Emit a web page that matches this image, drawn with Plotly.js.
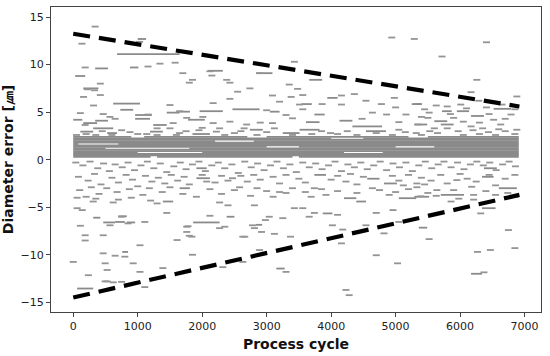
<!DOCTYPE html>
<html>
<head>
<meta charset="utf-8">
<script src="https://cdn.plot.ly/plotly-3.0.1.min.js"></script>
<style>html,body{margin:0;padding:0;background:#fff;}#chart{width:550px;height:356px;}</style>
</head>
<body>
<div id="chart"></div>
<script>
// Dense central band (horizontal traces): level y, start cycle, end cycle
const bandY  = [0.3,0.3,0.3, 0.45, 0.6, 0.75,0.75,0.75, 0.9, 1.05, 1.2,1.2, 1.35,1.35,1.35, 1.5, 1.65,1.65, 1.8, 1.95,1.95, 2.1, 2.25,2.25, 2.4,2.4,2.4,2.4];
const bandX0 = [0,1300,3500, 0, 0, 0,2000,4800, 0, 0, 0,1800, 0,3500,5600, 0, 0,700, 0, 0,2800, 0, 0,4500, 0,1100,3000,5500];
const bandX1 = [1200,3400,6910, 6910, 6910, 1000,4200,6910, 6910, 6910, 500,6910, 3000,5000,6910, 6910, 80,6910, 6910, 2200,6910, 6910, 4000,6910, 900,2700,5200,6910];

// Longer scattered traces: start cycle, end cycle, error
const segX0 = [680,1000,340,880,30,155,620,730,960,1450,0,155,340,960,1240,310,110,525,1190,2090,2840,1650,1960,2470,3050,1780,1850,2740,3250,3660,3540,3940,5250,3740,3610,4130,4330,3510,4540,5290,5720,6520,5950,5600,6170,5290,5700,
  310,700,650,465,830,1390,1860,60,1910,1910,1650,2380,2830,3150,3740,4560,4820,4200,4390,5050,3870,6370,6340,6600,5700,5290,6340,5360,6170,760];
const segX1 = [1650,1130,540,1010,185,390,1035,930,1220,1650,140,370,540,1190,1450,620,310,680,1390,2320,3090,1810,2320,2890,3200,2040,2120,2940,3510,3860,3700,4100,5410,3900,3820,4330,4790,3820,4850,5390,5870,6790,6140,5800,6370,5490,5900,
  420,830,800,650,960,1550,2270,310,2070,2120,1810,2500,2930,3280,3920,4750,5020,4390,4540,5320,4020,6570,6520,6880,6060,5520,6550,5490,6340,850];
const segY  = [11.1,12.7,9.6,9.7,8.8,7.5,5.9,5.25,4.7,4.95,4.2,3.85,4.1,4.3,3.65,3.3,2.95,2.8,2.95,9.35,9.1,5.05,5.1,5.3,5.05,4.2,2.7,3.15,2.8,8.4,5.85,6.5,5.85,4.75,3.95,4.1,3.5,3.15,3.0,5.85,5.1,5.35,5.1,4.05,4.6,3.7,3.7,
  -6.1,-5.95,-6.55,-6.6,-6.6,-4.4,-6.6,-13.55,-0.9,-1.95,-3.0,-6.0,-6.85,-11.45,-1.6,-2.0,-2.5,-4.05,-4.4,-4.05,-5.65,-0.9,-1.8,-3.0,-3.7,-3.9,-5.1,-7.15,-12.0,-9.7];

// Short dashes: cycle, error
const dashX = [340,135,1060,1030,185,1160,1345,1580,420,315,110,465,1500,650,880,1500,1650,1700,1850,1800,2150,2380,2430,3430,3350,3480,2550,2740,2430,2170,3090,3200,3380,3510,3300,3400,2170,2430,2690,3090,2220,2500,3120,2000,
  4940,5290,3560,4160,4160,3860,4360,4540,4780,4980,5000,3560,4640,4860,5160,4480,5050,5350,3990,4250,5050,5320,6410,5720,6260,6880,6290,6170,5630,6010,6410,5520,5500,5900,6520,6790,6170,6630,6880,5530,5970,6440,2890,2120,1300,1550,1760,2010,1650,3000,1140,2270,2650,2900,220,330,160,420,570,1160,185,
  50,200,350,450,600,750,1000,1300,1600,1750,1950,2350,2600,2850,3000,3400,3700,3850,4100,4400,4700,4950,5150,5400,5650,5800,6050,6200,6300,6550,6700,6850,
  5400,5600,5800,6050,6300,6450,6700,6850,6650,6100,5850,5450,6600,6350,
  310,620,60,140,850,1110,110,570,185,185,465,1035,800,465,0,495,930,1035,235,495,620,1110,990,750,1300,1450,2120,2270,2270,1780,1800,1610,2660,2810,2980,2630,2890,650,525,525,750,1390,2320,2070,2470,2580,3000,3200,3400,1910,2400,2810,3040,3250,3430,2350,2780,1760,1760,1840,2920,3120,3370,2630,1850,3300,
  4230,5120,5330,4640,3740,3690,3920,4900,5390,3560,3740,4100,4700,4960,5050,3660,4020,4180,4540,4820,4160,4700,5030,4230,4280,5750,5950,6110,5330,5450,6180,6550,5640,5630,5980,6210,6550,6740,5860,6210,6320,5520,6750,6470,6270,6850,6370,
  40,150,260,380,470,560,650,760,850,950,1050,1150,1250,1350,1450,1560,1660,1750,1850,1950,2050,2150,2250,2350,2460,2560,2660,2760,2860,2960,3060,3160,3260,3360,3460,3560,3660,3760,3860,3960,4060,4160,4260,4360,4460,4560,4660,4760,4860,4960,5060,5160,5260,5360,5460,5560,5660,5860,5960,6060,6160,6260,6360,6460,6560,6660,6760,6860,
  80,230,330,430,600,700,820,920,1000,1120,1220,1320,1420,1520,1620,1720,1800,2000,2200,2300,2400,2600,2700,2800,2900,3100,3200,3300,3500,3600,4000,4100,4300,4400,4500,4950,5050,5200,5400,5550,5700,5800,6000,6250,6450,6700,6850,
  100,280,400,520,680,870,1080,1180,1380,1500,1700,2120,2300,2500,2750,2850,3100,3300,3600,3850,4100,4400,4750,5000,5200,5500,5900,6400,6850,60,200,350,900,1200,700];
const dashY = [14.0,12.2,12.7,12.4,9.7,9.8,10.1,10.2,8.0,5.7,4.9,4.8,5.75,4.3,2.9,3.3,2.8,9.1,8.4,8.1,8.85,8.4,8.1,10.3,7.9,7.45,7.15,7.5,6.4,5.95,6.75,6.1,6.6,5.8,4.7,4.35,3.85,4.0,3.7,3.85,2.95,2.8,3.3,3.35,
  12.85,12.7,6.8,6.75,5.8,5.85,6.9,6.2,5.85,6.5,5.5,5.3,4.95,4.75,4.75,4.3,3.95,3.7,2.8,3.0,3.15,2.8,12.35,10.85,8.4,6.65,6.2,7.1,5.7,5.8,5.5,4.95,4.4,4.4,4.2,4.75,3.5,3.7,3.15,3.0,3.0,2.9,9.1,9.3,3.3,3.85,4.4,4.5,5.1,5.2,2.7,3.3,3.3,3.9,7.4,7.3,6.6,6.8,4.5,4.75,3.65,
  2.6,2.7,2.6,3.0,2.6,3.1,2.7,2.6,2.6,3.0,3.1,2.6,3.0,2.6,2.9,2.6,2.7,3.0,2.7,2.6,2.8,2.6,2.9,2.6,2.8,3.3,2.6,3.1,2.7,2.6,3.0,2.7,
  4.5,3.3,5.6,4.0,3.9,4.8,4.3,5.3,5.8,5.4,4.8,5.3,3.2,3.3,
  -4.4,-4.5,-5.1,-5.3,-6.7,-6.55,-6.95,-6.9,-7.95,-8.5,-7.95,-9.0,-10.2,-9.85,-10.75,-10.9,-10.9,-11.8,-12.15,-12.8,-12.9,-13.4,-12.9,-6.0,-4.6,-5.6,-5.9,-4.5,-7.2,-7.0,-8.0,-8.45,-8.1,-7.2,-6.35,-10.75,-9.5,-10.1,-11.6,-12.8,-12.85,-11.4,-11.3,-2.3,-1.95,-2.9,-3.3,-3.4,-3.0,-3.9,-4.8,-4.8,-6.0,-6.15,-5.1,-7.05,-6.9,-7.05,-7.6,-8.1,-7.6,-7.8,-8.1,-8.1,-10.0,-11.8,
  -2.3,-2.7,-2.9,-3.0,-3.0,-3.9,-3.7,-3.7,-3.85,-5.1,-5.6,-5.8,-5.6,-5.3,-6.55,-6.0,-6.9,-7.35,-6.9,-7.75,-8.8,-10.05,-10.9,-13.7,-14.25,-0.2,-2.15,-2.0,-2.5,-2.6,-2.85,-2.7,-3.2,-3.8,-4.1,-3.7,-3.7,-3.5,-4.4,-4.2,-5.65,-8.35,-7.4,-9.5,-9.7,-9.3,-11.85,
  -0.3,-0.6,-0.2,-0.9,-0.4,-1.2,-0.5,-0.8,-0.3,-1.1,-0.6,-0.2,-0.9,-0.4,-1.3,-0.7,-0.3,-1.0,-0.5,-0.2,-1.2,-0.6,-0.3,-0.9,-0.5,-1.4,-0.2,-0.8,-0.4,-1.1,-0.6,-0.2,-0.9,-0.5,-1.3,-0.3,-0.8,-0.4,-1.0,-0.6,-0.2,-1.2,-0.5,-0.8,-0.3,-1.0,-0.6,-0.2,-1.1,-0.4,-0.8,-0.3,-1.2,-0.6,-0.2,-0.9,-0.5,-0.8,-0.3,-1.0,-0.5,-0.2,-0.6,-0.3,-1.1,-0.5,-0.2,-0.7,
  -1.8,-2.2,-1.5,-2.6,-1.9,-2.4,-1.6,-2.1,-2.8,-1.7,-2.3,-1.9,-2.5,-1.6,-2.2,-1.8,-2.6,-1.6,-2.4,-1.7,-2.2,-1.7,-2.3,-1.6,-2.1,-1.8,-2.5,-1.6,-2.0,-2.4,-2.1,-1.7,-1.5,-2.6,-1.8,-1.7,-2.2,-1.6,-1.9,-2.2,-1.6,-2.5,-1.5,-2.3,-1.6,-2.0,-1.6,
  -3.2,-2.9,-3.6,-3.0,-3.4,-3.1,-3.7,-3.0,-3.4,-2.9,-3.6,-3.1,-3.6,-3.2,-3.8,-3.0,-3.9,-3.5,-3.4,-3.1,-3.3,-3.5,-3.2,-3.4,-3.1,-3.5,-3.2,-3.3,-3.9,-4.0,-3.9,-4.1,-4.0,-4.3,-4.2];

// Envelope (dashed bounds)
const upperX = [0, 6920], upperY = [13.25, 5.6];
const lowerX = [0, 6920], lowerY = [-14.5, -3.7];

function segs(x0, x1, y) {
  const xs = [], ys = [];
  for (let i = 0; i < y.length; i++) { xs.push(x0[i], x1[i], null); ys.push(y[i], y[i], null); }
  return {xs, ys};
}
const gray = '#8a8a8a';
const b = segs(bandX0, bandX1, bandY);
const s = segs(segX0, segX1, segY);

const traces = [
  {x: b.xs, y: b.ys, type: 'scatter', mode: 'lines', line: {color: gray, width: 1.8}, hoverinfo: 'skip', connectgaps: false},
  {x: s.xs, y: s.ys, type: 'scatter', mode: 'lines', line: {color: gray, width: 1.8}, hoverinfo: 'skip', connectgaps: false},
  {x: dashX, y: dashY, type: 'scatter', mode: 'markers',
   marker: {symbol: 'line-ew', size: 5, line: {color: '#949494', width: 1.8}}, hoverinfo: 'skip'},
  {x: upperX, y: upperY, type: 'scatter', mode: 'lines', line: {color: '#000', width: 4.2, dash: '17px,9px'}},
  {x: lowerX, y: lowerY, type: 'scatter', mode: 'lines', line: {color: '#000', width: 4.2, dash: '17px,9px'}}
];

const layout = {
  width: 550, height: 356,
  margin: {l: 51, r: 9, t: 7, b: 44},
  showlegend: false,
  paper_bgcolor: '#fff', plot_bgcolor: '#fff',
  font: {family: 'DejaVu Sans, sans-serif', color: '#222', size: 11},
  xaxis: {
    range: [-345, 7255], showgrid: false, zeroline: false,
    showline: true, mirror: true, linecolor: '#444', linewidth: 1,
    ticks: 'outside', ticklen: 4, tickcolor: '#444',
    tickvals: [0,1000,2000,3000,4000,5000,6000,7000],
    ticktext: ['0','1000','2000','3000','4000','5000','6000','7000'],
    tickfont: {size: 11},
    title: {text: '<b>Process cycle</b>', font: {size: 14, color: '#111'}, standoff: 6}
  },
  yaxis: {
    range: [-16.02, 16.06], showgrid: false, zeroline: false,
    showline: true, mirror: true, linecolor: '#444', linewidth: 1,
    ticks: 'outside', ticklen: 4, tickcolor: '#444',
    tickvals: [-15,-10,-5,0,5,10,15],
    ticktext: ['\u221215','\u221210','\u22125','0','5','10','15'],
    tickfont: {size: 11},
    title: {text: '<b>Diameter error [㎛]</b>', font: {size: 14, color: '#111'}, standoff: 6}
  }
};

Plotly.newPlot('chart', traces, layout, {displayModeBar: false, staticPlot: true});
</script>
</body>
</html>
